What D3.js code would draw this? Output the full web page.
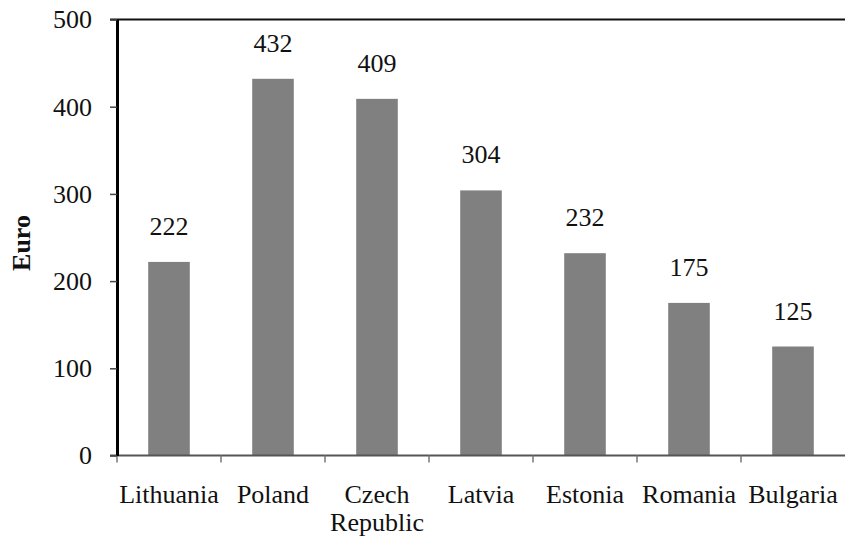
<!DOCTYPE html>
<html>
<head>
<meta charset="utf-8">
<script src="https://cdn.jsdelivr.net/npm/d3@7/dist/d3.min.js"></script>
<style>
  html, body { margin: 0; padding: 0; background: #fff; }
  svg { display: block; }
  text { font-family: "Liberation Serif", "Times New Roman", serif; fill: #111; }
</style>
</head>
<body>
<svg id="chart" width="845" height="538"></svg>
<script>
const categories = ["Lithuania", "Poland", "Czech Republic", "Latvia", "Estonia", "Romania", "Bulgaria"];
const values = [222, 432, 409, 304, 232, 175, 125];
const yTicks = [0, 100, 200, 300, 400, 500];
const yLabel = "Euro";

const svg = d3.select("#chart");
const plotLeft = 117, plotRight = 845, plotTop = 19.5, plotBottom = 455.5;

const x = d3.scaleBand().domain(categories).range([plotLeft, plotRight]).paddingInner(0.6).paddingOuter(0.3);
const y = d3.scaleLinear().domain([0, 500]).range([plotBottom, plotTop]);

// bars
svg.append("g").selectAll("rect").data(values).join("rect")
  .attr("x", (d, i) => x(categories[i]))
  .attr("y", d => y(d))
  .attr("width", x.bandwidth())
  .attr("height", d => y(0) - y(d))
  .attr("fill", "#808080");

// top frame line
svg.append("line")
  .attr("x1", plotLeft - 7).attr("x2", plotRight)
  .attr("y1", y(500)).attr("y2", y(500))
  .attr("stroke", "#111").attr("stroke-width", 2);

// x axis baseline
svg.append("line")
  .attr("x1", plotLeft - 7).attr("x2", plotRight)
  .attr("y1", y(0)).attr("y2", y(0))
  .attr("stroke", "#555").attr("stroke-width", 2);

// x ticks at band boundaries
const step = x.step();
const bounds = categories.map(c => x(c) + x.bandwidth() / 2 - step / 2);
svg.append("g").selectAll("line").data(bounds).join("line")
  .attr("x1", d => d).attr("x2", d => d)
  .attr("y1", y(0)).attr("y2", y(0) + 7)
  .attr("stroke", "#777").attr("stroke-width", 1.5);

// y axis
const yAxis = svg.append("g")
  .attr("transform", `translate(${plotLeft},0)`)
  .call(d3.axisLeft(y).tickValues(yTicks).tickSize(7).tickPadding(18).tickSizeOuter(0));
yAxis.select(".domain").attr("stroke", "#000").attr("stroke-width", 3);
yAxis.selectAll(".tick line").attr("stroke", "#444").attr("stroke-width", 1.5);
yAxis.selectAll(".tick text")
  .attr("font-family", "Liberation Serif, Times New Roman, serif")
  .attr("font-size", 26).attr("fill", "#111").attr("dy", "0.32em");

// x labels
const xl = svg.append("g").selectAll("text").data(categories).join("text")
  .attr("text-anchor", "middle")
  .attr("font-size", 26)
  .attr("x", d => x(d) + x.bandwidth() / 2)
  .attr("y", 503);
xl.each(function(d) {
  const words = d.split(" ");
  const t = d3.select(this);
  const cx = x(d) + x.bandwidth() / 2;
  words.forEach((w, i) => {
    t.append("tspan").attr("x", cx).attr("y", 503 + i * 28).text(w);
  });
});

// value labels
svg.append("g").selectAll("text").data(values).join("text")
  .attr("text-anchor", "middle")
  .attr("font-size", 26)
  .attr("x", (d, i) => x(categories[i]) + x.bandwidth() / 2)
  .attr("y", d => y(d) - 27)
  .text(d => d);

// y label
svg.append("text")
  .attr("transform", "translate(30,243) rotate(-90)")
  .attr("text-anchor", "middle")
  .attr("font-size", 26)
  .attr("font-weight", "bold")
  .text(yLabel);
</script>
</body>
</html>
